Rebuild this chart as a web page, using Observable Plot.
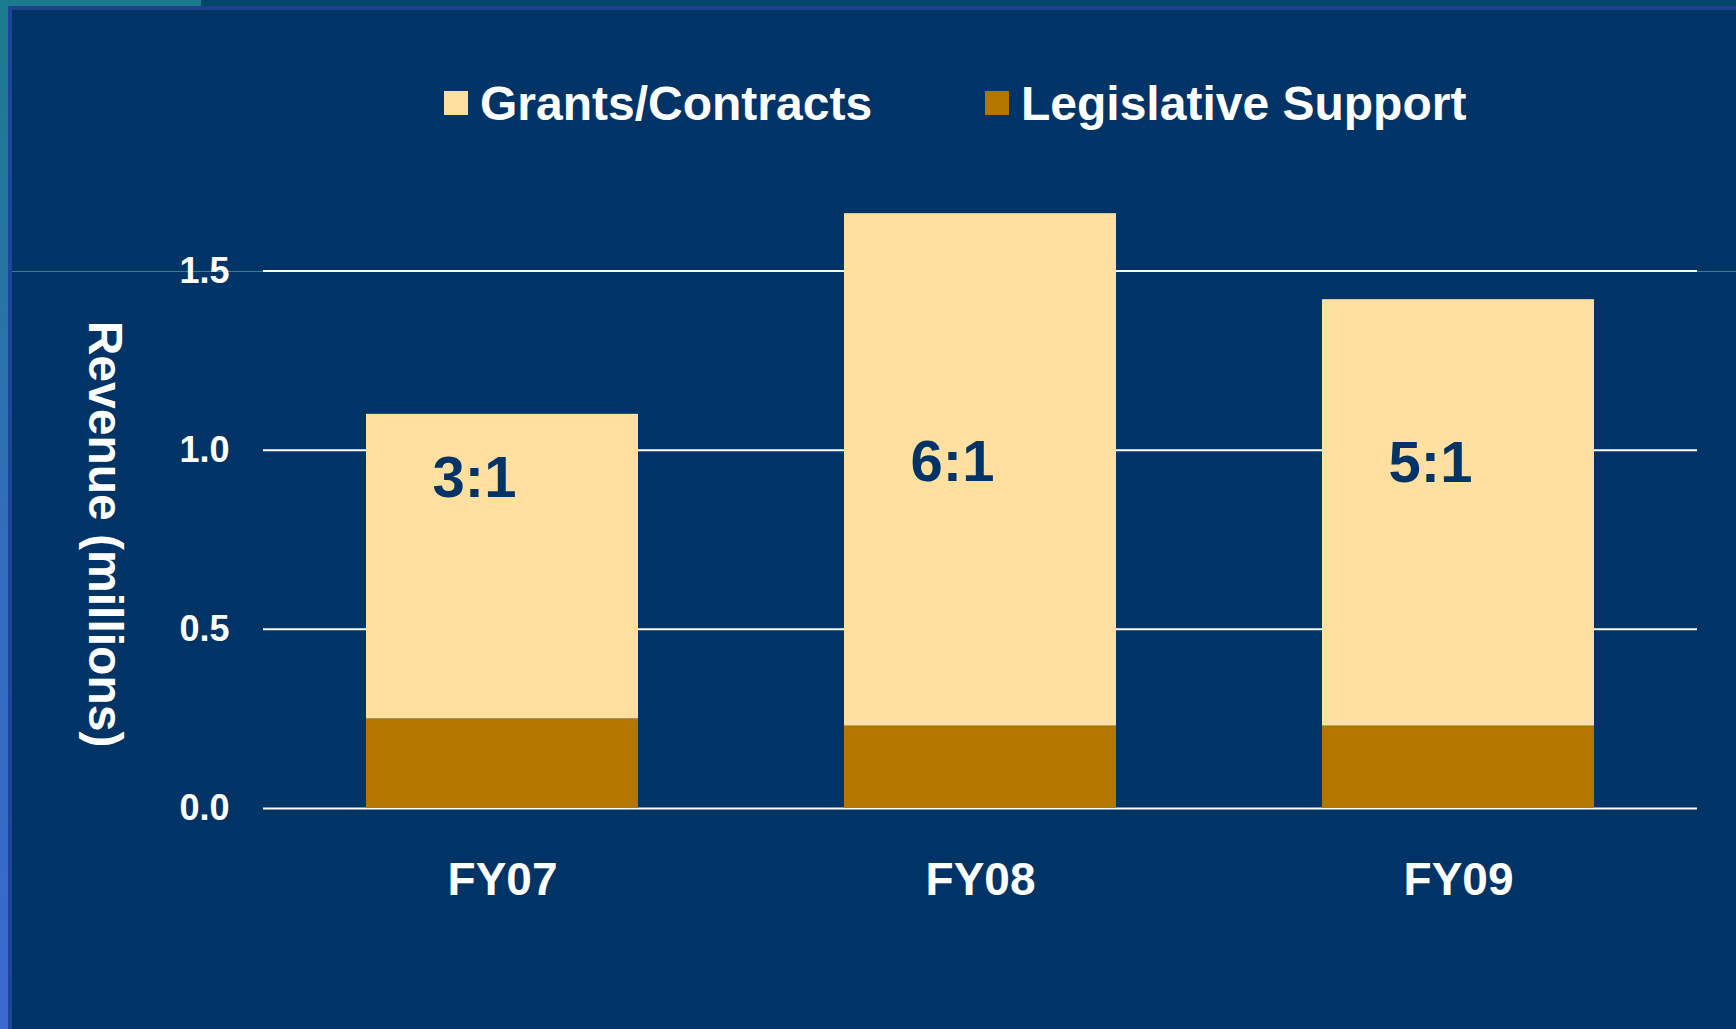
<!DOCTYPE html>
<html><head><meta charset="utf-8">
<script src="https://cdn.jsdelivr.net/npm/d3@7"></script>
<script src="https://cdn.jsdelivr.net/npm/@observablehq/plot@0.6"></script>
<style>
html,body{margin:0;padding:0;background:#003366;overflow:hidden;}
#wrap{position:relative;width:1736px;height:1029px;background:#003366;font-family:"Liberation Sans",Arial,Helvetica,sans-serif;font-weight:bold;color:#fff;overflow:hidden;}
.deco{position:absolute;}
#legend{position:relative;height:150px;z-index:2;}
.sw{position:absolute;top:91px;width:24px;height:24px;}
.lt{position:absolute;top:80px;font-size:48px;line-height:1;white-space:nowrap;}
#chart{position:relative;z-index:2;}
</style>
</head><body>
<div id="wrap">
  <div class="deco" style="left:0;top:0;width:1736px;height:6px;background:#00456a;"></div>
  <div class="deco" style="left:0;top:0;width:201px;height:6px;background:#1b7b8c;"></div>
  <div class="deco" style="left:8px;top:6px;width:1728px;height:4px;background:#1f3f8f;"></div>
  <div class="deco" style="left:0;top:0;width:8px;height:1029px;background:linear-gradient(#1b7b8c,#2f6fb8 50%,#3a68d0);"></div>
  <div class="deco" style="left:8px;top:6px;width:4px;height:1023px;background:#1f4596;"></div>
  <div class="deco" style="left:12px;top:271px;width:251px;height:1px;background:#1d8a9a;z-index:1;"></div>
  <div class="deco" style="left:1697px;top:271px;width:39px;height:1px;background:#1d8a9a;z-index:1;"></div>
  <div id="legend"></div>
  <div id="chart"></div>
</div>
<script>
const years = ["FY07", "FY08", "FY09"];
const series = ["Legislative Support", "Grants/Contracts"];
const legislative = [0.25, 0.23, 0.23];
const grants = [0.85, 1.43, 1.19];
const ratios = ["3:1", "6:1", "5:1"];
const ratioY = [0.868, 0.915, 0.911];
const colors = ["#B37700", "#FFE0A1"];
const yTicks = [0, 0.5, 1.0, 1.5];
const legendOrder = ["Grants/Contracts", "Legislative Support"];

const rows = years.flatMap((yr, i) => [
  {year: yr, series: series[0], value: legislative[i]},
  {year: yr, series: series[1], value: grants[i]}
]);

// Legend (HTML, above the SVG)
const legend = document.getElementById("legend");
const legendLeft = [444, 985];
legendOrder.forEach((s, i) => {
  const sw = document.createElement("div");
  sw.className = "sw";
  sw.style.left = legendLeft[i] + "px";
  sw.style.background = colors[series.indexOf(s)];
  legend.appendChild(sw);
  const t = document.createElement("div");
  t.className = "lt";
  t.style.left = (legendLeft[i] + 36) + "px";
  t.textContent = s;
  legend.appendChild(t);
});

const chart = Plot.plot({
  width: 1736,
  height: 879,
  marginLeft: 263,
  marginRight: 39,
  marginTop: 13,
  marginBottom: 221,
  style: {background: "transparent", color: "white", fontFamily: "'Liberation Sans', Arial, Helvetica, sans-serif", fontWeight: "bold", overflow: "visible"},
  x: {domain: years, paddingInner: 0.43, paddingOuter: 0.215, label: null},
  y: {domain: [0, 1.8], label: null},
  color: {domain: series, range: colors},
  marks: [
    Plot.gridY(yTicks, {stroke: "white", strokeOpacity: 1, strokeWidth: 2}),
    Plot.barY(rows, {x: "year", y: "value", fill: "series"}),
    Plot.axisY(yTicks, {tickSize: 0, tickPadding: 34, fontSize: 36, tickFormat: d3.format(".1f"), label: null, fill: "white"}),
    Plot.axisX({tickSize: 0, tickPadding: 54, fontSize: 46, label: null, fill: "white"}),
    Plot.text(years, {x: d => d, y: (d, i) => ratioY[i], text: (d, i) => ratios[i], dx: -28, fill: "#003366", fontSize: 58, fontWeight: "bold", lineAnchor: "bottom"}),
    Plot.text(["Revenue (millions)"], {frameAnchor: "left", textAnchor: "middle", dx: -159, dy: 48, rotate: 90, fontSize: 48, fontWeight: "bold", fill: "white"})
  ]
});
document.getElementById("chart").appendChild(chart);
</script>
</body></html>
